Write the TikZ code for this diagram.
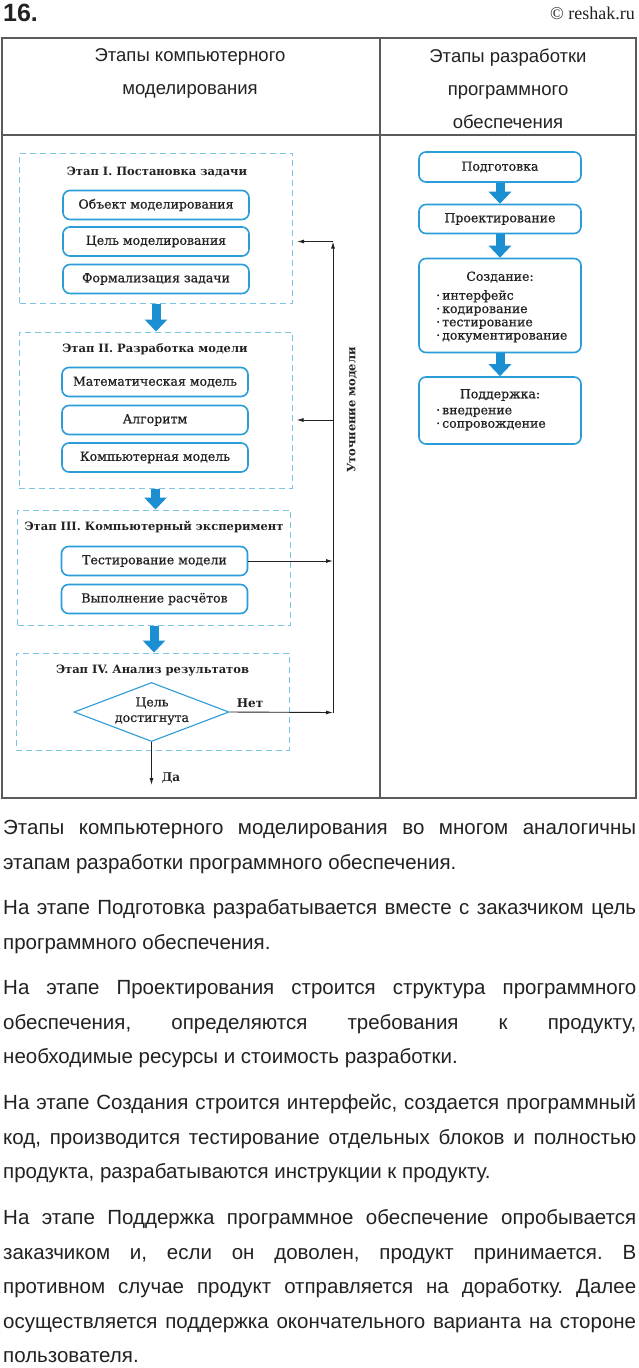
\documentclass[tikz,border=0pt]{standalone}
\usepackage{fontspec}
\setmainfont{DejaVu Serif}
\newfontfamily\medserif[FakeBold=0.7]{DejaVu Serif}
\newfontfamily\sansbody{Liberation Sans}
\newfontfamily\timesf{Liberation Serif}
\usetikzlibrary{arrows.meta,shapes.geometric}
\definecolor{boxblue}{HTML}{2A9DD8}
\definecolor{dashblue}{HTML}{7CC4E4}
\definecolor{arrowblue}{HTML}{1C8FD2}
\definecolor{rulegray}{HTML}{5A5A5A}
\definecolor{ink}{HTML}{222222}
\newcommand{\jus}[1]{\hbox to 633pt{#1}}
\frenchspacing
\begin{document}
\begin{tikzpicture}[x=1pt,y=-1pt,
  tablerule/.style={draw=rulegray, line width=1.3pt},
  hdr/.style={font=\sansbody\fontsize{18.5}{33}\selectfont, align=center, inner sep=0, text=ink},
  stage/.style={draw=dashblue, dash pattern=on 6pt off 4pt, line width=1pt, minimum width=273pt, inner sep=0},
  ttl/.style={font=\bfseries\fontsize{11.5}{13}\selectfont, inner sep=0, text=ink},
  item/.style={draw=boxblue, line width=1.6pt, rounded corners=7pt, minimum width=186pt, minimum height=29pt, inner sep=0, font=\medserif\fontsize{12.5}{14}\selectfont, text=ink},
  rbox/.style={draw=boxblue, line width=1.6pt, rounded corners=7pt, minimum width=162pt, inner sep=0, font=\medserif\fontsize{12.5}{14}\selectfont, text=ink},
  rtext/.style={font=\medserif\fontsize{12.5}{13.3}\selectfont, inner sep=0, text=ink, align=left},
  barrow/.style={arrowblue, line width=9pt, -{Triangle[width=22pt,length=12pt]}},
  thinarrow/.style={line width=0.9pt, draw=ink, -{Latex[length=7pt,width=4pt]}},
  lbl/.style={font=\medserif\fontsize{12.5}{14}\selectfont, inner sep=0, text=ink},
  body/.style={anchor=mid west, inner sep=0, font=\sansbody\fontsize{20.5}{21}\selectfont, text=ink}
]
\useasboundingbox (0,0) rectangle (638,1368);
\fill[white] (0,0) rectangle (638,1368);

% page header
\node[anchor=west, inner sep=0, font=\sansbody\bfseries\fontsize{25}{25}\selectfont, text=ink] (num) at (3,13) {16.};
\node[anchor=east, inner sep=0, font=\timesf\fontsize{18}{18}\selectfont, text=ink] (site) at (635,13) {© reshak.ru};

% table
\draw[tablerule] (2,38) rectangle (636,798);
\draw[tablerule] (380,38) -- (380,798);
\draw[tablerule] (2,135) -- (636,135);
\node[hdr] (h1) at (190,73) {Этапы компьютерного\\моделирования};
\node[hdr] (h2) at (508,89) {Этапы разработки\\программного\\обеспечения};

% stage I
\node[stage, minimum height=150pt] (s1) at (156,228) {};
\node[ttl] (t1) at (157,172.5) {Этап I. Постановка задачи};
\node[item] (i11) at (156,205) {Объект моделирования};
\node[item] (i12) at (156,241.5) {Цель моделирования};
\node[item] (i13) at (156,279) {Формализация задачи};

% stage II
\node[stage, minimum height=156pt] (s2) at (155.5,410) {};
\node[ttl] (t2) at (155,349.5) {Этап II. Разработка модели};
\node[item] (i21) at (155,382) {Математическая модель};
\node[item] (i22) at (155,420) {Алгоритм};
\node[item] (i23) at (155,457.5) {Компьютерная модель};

% stage III
\node[stage, minimum height=115pt] (s3) at (154,567.5) {};
\node[ttl] (t3) at (154,526.5) {Этап III. Компьютерный эксперимент};
\node[item] (i31) at (154.5,561) {Тестирование модели};
\node[item] (i32) at (154.5,599) {Выполнение расчётов};

% stage IV
\node[stage, minimum height=97pt] (s4) at (152.5,701.5) {};
\node[ttl] (t4) at (152.5,670.5) {Этап IV. Анализ результатов};
\node[diamond, draw=boxblue, line width=1.1pt, minimum width=155pt, minimum height=59pt, inner sep=0] (d) at (151.5,712) {};
\node[lbl, align=center, font=\medserif\fontsize{12.5}{15.5}\selectfont] (dt) at (152,711) {Цель\\достигнута};

% block arrows (left)
\draw[barrow] (s1.south) -- (s1.south |- s2.north);
\draw[barrow] (s2.south) -- (s2.south |- s3.north);
\draw[barrow] (s3.south) -- (s3.south |- s4.north);

% feedback loop
\coordinate (nb) at (333,712.5);
\coordinate (nt) at (nb |- i12);
\coordinate (yes) at (151.5,785);
\draw[thinarrow] (d.east) -- (nb);
\draw[thinarrow] (nb) -- (nt);
\draw[thinarrow, shorten >=4pt] (nt) -- (nt -| s1.east);
\draw[thinarrow, shorten >=4pt] (nb |- i22) -- (i22 -| s2.east);
\draw[thinarrow] (i31.east) -- (i31 -| nb);
\draw[thinarrow] (d.south) -- (yes);
\node[lbl, font=\bfseries\fontsize{12}{14}\selectfont] (no) at (250,703) {Нет};
\node[lbl, font=\bfseries\fontsize{12}{14}\selectfont] (yeslbl) at (171,778) {Да};
\node[ttl, rotate=90] (refine) at (352,410) {Уточнение модели};

% right column
\node[rbox, minimum height=30pt] (r1) at (500,167) {Подготовка};
\node[rbox, minimum height=29pt] (r2) at (500,219) {Проектирование};
\node[rbox, minimum height=94pt] (r3) at (500,305.5) {};
\node[rbox, minimum height=67pt] (r4) at (500,410.5) {};
\node[rtext] (r3t) at (500,277) {Создание:};
\node[rtext, anchor=north west] (r3l) at (436,290) {·\kern2pt интерфейс\\·\kern2pt кодирование\\·\kern2pt тестирование\\·\kern2pt документирование};
\node[rtext] (r4t) at (500,395) {Поддержка:};
\node[rtext, anchor=north west] (r4l) at (436,407.5) {·\kern2pt внедрение\\·\kern2pt сопровождение};
\draw[barrow] (r1.south) -- (r2.north);
\draw[barrow] (r2.south) -- (r3.north);
\draw[barrow] (r3.south) -- (r4.north);

% body text
\node[body] (b1) at (3,832) {\jus{Этапы компьютерного моделирования во многом аналогичны}};
\node[body] (b2) at (3,866.5) {этапам разработки программного обеспечения.};
\node[body] (b3) at (3,912) {\jus{На этапе Подготовка разрабатывается вместе с заказчиком цель}};
\node[body] (b4) at (3,946.5) {программного обеспечения.};
\node[body] (b5) at (3,992) {\jus{На этапе Проектирования строится структура программного}};
\node[body] (b6) at (3,1026.5) {\jus{обеспечения, определяются требования к продукту,}};
\node[body] (b7) at (3,1061) {необходимые ресурсы и стоимость разработки.};
\node[body] (b8) at (3,1107) {\jus{На этапе Создания строится интерфейс, создается программный}};
\node[body] (b9) at (3,1141.5) {\jus{код, производится тестирование отдельных блоков и полностью}};
\node[body] (b10) at (3,1176) {продукта, разрабатываются инструкции к продукту.};
\node[body] (b11) at (3,1222) {\jus{На этапе Поддержка программное обеспечение опробывается}};
\node[body] (b12) at (3,1256.5) {\jus{заказчиком и, если он доволен, продукт принимается. В}};
\node[body] (b13) at (3,1291) {\jus{противном случае продукт отправляется на доработку. Далее}};
\node[body] (b14) at (3,1325.5) {\jus{осуществляется поддержка окончательного варианта на стороне}};
\node[body] (b15) at (3,1360) {пользователя.};
\end{tikzpicture}
\end{document}
